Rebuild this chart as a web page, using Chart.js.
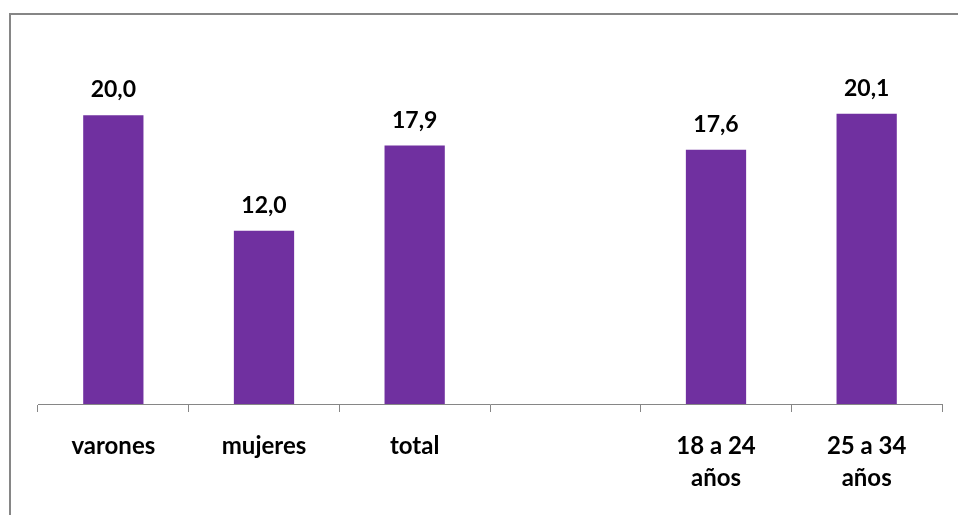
<!DOCTYPE html>
<html>
<head>
<meta charset="utf-8">
<script src="https://cdn.jsdelivr.net/npm/chart.js@4"></script>
<style>
  html, body { margin: 0; padding: 0; background: #fff; }
  .wrap { position: relative; width: 958px; height: 515px; overflow: hidden; }
  .frame {
    position: absolute; left: 9px; top: 13px; width: 1000px; height: 600px;
    border-left: 2px solid #868686; border-top: 2px solid #868686;
    pointer-events: none;
  }
  canvas { position: absolute; left: 0; top: 0; }
</style>
</head>
<body>
<div class="wrap">
  <canvas id="chart" width="958" height="515"></canvas>
  <div class="frame"></div>
</div>
<script>
const categories = ["varones", "mujeres", "total", "", ["18 a 24", "años"], ["25 a 34", "años"]];
const values = [20.0, 12.0, 17.9, null, 17.6, 20.1];

const barColor = "#7030A0";
const fontFamily = "Lato, 'Open Sans', sans-serif";

// numbers on top of the bars, with decimal comma
const valueLabels = {
  id: "valueLabels",
  afterDatasetsDraw(chart) {
    const ctx = chart.ctx;
    const meta = chart.getDatasetMeta(0);
    ctx.save();
    ctx.font = "bold 23px " + fontFamily;
    ctx.fillStyle = "#000";
    ctx.textAlign = "center";
    ctx.textBaseline = "alphabetic";
    meta.data.forEach((bar, i) => {
      const v = values[i];
      if (v === null) return;
      ctx.fillText(v.toFixed(1).replace(".", ","), bar.x, bar.y - 18);
    });
    ctx.restore();
  }
};

new Chart(document.getElementById("chart").getContext("2d"), {
  type: "bar",
  data: {
    labels: categories,
    datasets: [
      {
        data: values,
        backgroundColor: barColor,
        borderWidth: 0,
        categoryPercentage: 1,
        barPercentage: 0.4,
      },
    ],
  },
  options: {
    responsive: false,
    animation: false,
    layout: { padding: { left: 38, right: 16, top: 43, bottom: 0 } },
    plugins: {
      legend: { display: false },
      tooltip: { enabled: false },
    },
    scales: {
      x: {
        offset: true,
        grid: {
          offset: true,
          drawOnChartArea: false,
          drawTicks: true,
          tickLength: 8,
          color: "#868686",
        },
        border: { display: true, color: "#868686", width: 1 },
        ticks: {
          color: "#000",
          padding: 18,
          maxRotation: 0,
          autoSkip: false,
          font: { family: fontFamily, size: 24, weight: "bold", lineHeight: 1.33 },
        },
        afterFit(scale) {
          scale.height = 111;
        },
      },
      y: {
        display: false,
        min: 0,
        max: 25,
      },
    },
  },
  plugins: [valueLabels],
});
</script>
</body>
</html>
